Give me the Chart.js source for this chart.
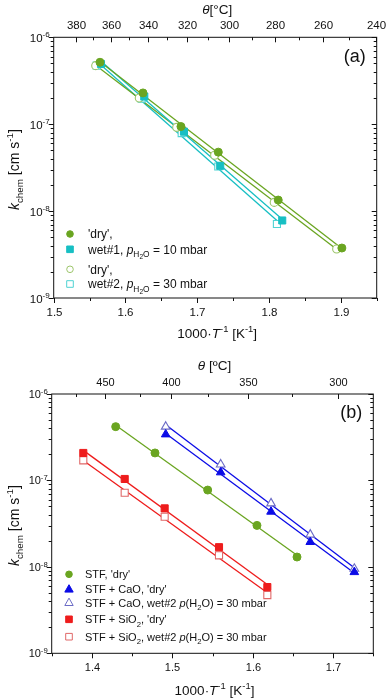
<!DOCTYPE html>
<html>
<head>
<meta charset="utf-8">
<script src="https://cdn.jsdelivr.net/npm/chart.js@4/dist/chart.umd.min.js"></script>
<style>
  html, body { margin: 0; padding: 0; background: #fff; }
  .panel { position: absolute; left: 0; width: 387px; }
  #wrapA { top: 0; height: 345px; }
  #wrapB { top: 345px; height: 354px; }
</style>
</head>
<body>
<div class="panel" id="wrapA"><canvas id="chartA" width="387" height="345"></canvas></div>
<div class="panel" id="wrapB"><canvas id="chartB" width="387" height="354"></canvas></div>
<script>
(function () {
  'use strict';

  // ---- panel (a): x = 1000/T [1/K], y = k_chem [cm/s]
  const aDry1X = [1.5645, 1.6244, 1.6773, 1.7293, 1.8128, 1.9015];
  const aDry1Y = [5.16e-7, 2.29e-7, 9.4e-8, 4.77e-8, 1.34e-8, 3.76e-9];
  const aWet1X = [1.5659, 1.6262, 1.6815, 1.7320, 1.8184];
  const aWet1Y = [4.93e-7, 2.08e-7, 8.2e-8, 3.32e-8, 7.8e-9];
  const aDry2X = [1.5585, 1.6192, 1.6713, 1.7242, 1.8072, 1.8942];
  const aDry2Y = [4.72e-7, 2.0e-7, 9.2e-8, 4.4e-8, 1.26e-8, 3.66e-9];
  const aWet2X = [1.5599, 1.6226, 1.6783, 1.7293, 1.8110];
  const aWet2Y = [4.72e-7, 1.97e-7, 7.9e-8, 3.26e-8, 7.1e-9];

  // ---- panel (b)
  const bStfX = [1.4296, 1.4785, 1.5440, 1.6053, 1.6551];
  const bStfY = [4.19e-7, 2.08e-7, 7.74e-8, 3.02e-8, 1.30e-8];
  const bCaoX = [1.4918, 1.5602, 1.6228, 1.6716, 1.7264];
  const bCaoDryY = [3.41e-7, 1.24e-7, 4.35e-8, 1.94e-8, 8.7e-9];
  const bCaoWetY = [4.19e-7, 1.53e-7, 5.43e-8, 2.36e-8, 9.5e-9];
  const bSioX = [1.3893, 1.4408, 1.4905, 1.5581, 1.6182];
  const bSioDryY = [2.08e-7, 1.04e-7, 4.75e-8, 1.69e-8, 5.84e-9];
  const bSioWetY = [1.71e-7, 7.2e-8, 3.8e-8, 1.36e-8, 4.72e-9];

  // ---- ticks
  const yDecades = [-9, -8, -7, -6];
  const aXTicks = [1.5, 1.6, 1.7, 1.8, 1.9];
  const aThetaTicks = [380, 360, 340, 320, 300, 280, 260, 240];
  const aThetaMinor = [370, 350, 330, 310, 290, 270, 250];
  const bXTicks = [1.4, 1.5, 1.6, 1.7];
  const bThetaTicks = [450, 400, 350, 300];
  const bThetaPos = [1.4163, 1.4980, 1.5945, 1.7057];     // as printed on the top axis
  const bThetaMinorPos = [1.3799, 1.4598, 1.5448, 1.6485];

  const FONT = '"Liberation Sans", Arial, sans-serif';
  const C = {
    green: '#6aa521', greenOpen: '#9cc56a',
    cyan: '#17bfc3', cyanOpen: '#4fd3d3',
    blue: '#0b0be6', blueOpen: '#6c6cc6',
    red: '#ee1c1c', redOpen: '#e06868'
  };

  const pts = (xs, ys) => xs.map((x, i) => ({ x, y: ys[i] }));

  // straight fit in log space, drawn between first and last point
  function fitPts(xs, ys) {
    const n = xs.length;
    const ly = ys.map(v => Math.log10(v));
    const mx = xs.reduce((s, v) => s + v, 0) / n;
    const my = ly.reduce((s, v) => s + v, 0) / n;
    let sxy = 0, sxx = 0;
    xs.forEach((x, i) => { sxy += (x - mx) * (ly[i] - my); sxx += (x - mx) * (x - mx); });
    const b = sxy / sxx, a = my - b * mx;
    const x0 = Math.min(...xs), x1 = Math.max(...xs);
    return [{ x: x0, y: Math.pow(10, a + b * x0) }, { x: x1, y: Math.pow(10, a + b * x1) }];
  }

  function series(xs, ys, style, lineColor, markColor, filled, r) {
    return [
      {
        data: fitPts(xs, ys), showLine: true, pointRadius: 0,
        borderColor: lineColor, borderWidth: 1.3, order: 2
      },
      {
        data: pts(xs, ys), showLine: false, order: 1,
        pointStyle: style, pointRadius: r,
        pointBackgroundColor: filled ? markColor : '#fff',
        pointBorderColor: markColor, pointBorderWidth: filled ? 1 : 1.1
      }
    ];
  }

  // ---- rich text (italic / sub / sup) on the canvas
  const KIND = {
    n: { s: 1, dy: 0, it: false },
    i: { s: 1, dy: 0, it: true },
    sub: { s: 0.7, dy: 0.3, it: false },
    sup: { s: 0.7, dy: -0.42, it: false },
    ss: { s: 0.55, dy: 0.48, it: false }
  };
  const setFont = (ctx, size, it) => { ctx.font = (it ? 'italic ' : '') + size + 'px ' + FONT; };

  function richWidth(ctx, segs, size) {
    let w = 0;
    segs.forEach(([t, k]) => { setFont(ctx, size * KIND[k].s, KIND[k].it); w += ctx.measureText(t).width; });
    return w;
  }

  function drawRich(ctx, segs, size, x, y, align) {
    const w = richWidth(ctx, segs, size);
    let cx = align === 'center' ? x - w / 2 : align === 'right' ? x - w : x;
    const base = y + size * 0.36;
    ctx.textAlign = 'left';
    ctx.textBaseline = 'alphabetic';
    segs.forEach(([t, k]) => {
      const K = KIND[k];
      setFont(ctx, size * K.s, K.it);
      ctx.fillText(t, cx, base + K.dy * size);
      cx += ctx.measureText(t).width;
    });
  }

  function marker(ctx, kind, x, y, color, filled) {
    ctx.save();
    ctx.fillStyle = filled ? color : '#fff';
    ctx.strokeStyle = color;
    ctx.lineWidth = 1;
    ctx.beginPath();
    if (kind === 'circle') ctx.arc(x, y, 3.3, 0, Math.PI * 2);
    else if (kind === 'rect') ctx.rect(x - 3.3, y - 3.3, 6.6, 6.6);
    else { ctx.moveTo(x, y - 4.6); ctx.lineTo(x + 4.2, y + 2.8); ctx.lineTo(x - 4.2, y + 2.8); ctx.closePath(); }
    ctx.fill();
    ctx.stroke();
    ctx.restore();
  }

  const yTitle = [['k', 'i'], ['chem', 'sub'], [' [cm s', 'n'], ['-1', 'sup'], [']', 'n']];
  const xTitle = [['1000·', 'n'], ['T', 'i'], ['-1', 'sup'], [' [K', 'n'], ['-1', 'sup'], [']', 'n']];

  // frame, ticks, labels, titles and legend
  function axesPlugin(cfg) {
    return {
      id: 'axesDeco',
      afterDraw(chart) {
        const ctx = chart.ctx;
        const { left, right, top, bottom } = chart.chartArea;
        const xs = chart.scales.x, ys = chart.scales.y;
        ctx.save();
        ctx.strokeStyle = '#111';
        ctx.fillStyle = '#111';
        ctx.lineWidth = 1;
        ctx.strokeRect(left, top, right - left, bottom - top);

        const tick = (x1, y1, x2, y2) => { ctx.beginPath(); ctx.moveTo(x1, y1); ctx.lineTo(x2, y2); ctx.stroke(); };

        // y: decades and minors, left outward, right inward
        yDecades.forEach(e => {
          const py = Math.round(ys.getPixelForValue(Math.pow(10, e))) + 0.5;
          tick(left - 5, py, left, py);
          tick(right - 5, py, right, py);
          drawRich(ctx, [['10', 'n'], [String(e), 'sup']], cfg.tickSize, left - 4, py, 'right');
          if (e < -6) {
            for (let m = 2; m <= 9; m++) {
              const p = Math.round(ys.getPixelForValue(m * Math.pow(10, e))) + 0.5;
              tick(left - 3, p, left, p);
              tick(right - 3, p, right, p);
            }
          }
        });

        // bottom x
        cfg.xTicks.forEach(v => {
          const px = Math.round(xs.getPixelForValue(v)) + 0.5;
          tick(px, bottom, px, bottom + 5);
          drawRich(ctx, [[v.toFixed(1), 'n']], cfg.tickSize, px, bottom + cfg.xLabelDy, 'center');
        });
        for (let v = xs.min; v <= xs.max + 1e-9; v += 0.05) {
          const px = Math.round(xs.getPixelForValue(v)) + 0.5;
          tick(px, bottom, px, bottom + 3);
        }

        // top theta
        cfg.topMajor.forEach(([pos, label]) => {
          if (pos < xs.min || pos > xs.max + 1e-6) return;
          const px = Math.round(xs.getPixelForValue(pos)) + 0.5;
          tick(px, top, px, top + 5);
          drawRich(ctx, [[String(label), 'n']], cfg.tickSize, px, top - 12.3, 'center');
        });
        cfg.topMinor.forEach(pos => {
          if (pos < xs.min || pos > xs.max) return;
          const px = Math.round(xs.getPixelForValue(pos)) + 0.5;
          tick(px, top, px, top + 3);
        });

        // titles
        const midX = (left + right) / 2 + 2;
        drawRich(ctx, xTitle, 13.5, midX, bottom + cfg.xTitleDy, 'center');
        drawRich(ctx, cfg.topTitle, 13.5, midX, top - 28.5, 'center');
        ctx.save();
        ctx.translate(13.5, (top + bottom) / 2 + 2);
        ctx.rotate(-Math.PI / 2);
        drawRich(ctx, yTitle, 14, 0, 0, 'center');
        ctx.restore();
        drawRich(ctx, [[cfg.panel, 'n']], 18, right - 22, top + 18, 'center');

        // legend
        cfg.legend.forEach((it, i) => {
          const ly = bottom - cfg.legendRows[i];
          marker(ctx, it.kind, left + cfg.legendMarkX, ly, it.color, it.filled);
          ctx.fillStyle = '#111';
          drawRich(ctx, it.text, cfg.legendSize, left + cfg.legendTextX, ly, 'left');
        });
        ctx.restore();
      }
    };
  }

  function makeChart(id, xMin, xMax, padding, datasets, cfg) {
    return new Chart(document.getElementById(id), {
      type: 'scatter',
      data: { datasets },
      options: {
        responsive: false,
        animation: false,
        events: [],
        layout: { padding },
        plugins: { legend: { display: false }, tooltip: { enabled: false } },
        scales: {
          x: { type: 'linear', min: xMin, max: xMax, display: false },
          y: { type: 'logarithmic', min: 1e-9, max: 1e-6, display: false }
        }
      },
      plugins: [axesPlugin(cfg)]
    });
  }

  const toInv = t => 1000 / (t + 273.15);

  makeChart('chartA', 1.5, 1.95, { left: 53.7, top: 37.3, right: 10.3, bottom: 47 }, [
    ...series(aDry1X, aDry1Y, 'circle', C.green, C.green, true, 4),
    ...series(aWet1X, aWet1Y, 'rect', C.cyan, C.cyan, true, 5),
    ...series(aDry2X, aDry2Y, 'circle', C.green, C.greenOpen, false, 4),
    ...series(aWet2X, aWet2Y, 'rect', C.cyan, C.cyanOpen, false, 5)
  ], {
    panel: '(a)',
    tickSize: 11.5,
    xTicks: aXTicks,
    xLabelDy: 13.7,
    xTitleDy: 34.7,
    topMajor: aThetaTicks.map(t => [toInv(t), t]),
    topMinor: aThetaMinor.map(toInv),
    topTitle: [['θ', 'i'], ['[°C]', 'n']],
    legendSize: 12,
    legendMarkX: 16.3,
    legendTextX: 34.3,
    legendRows: [64, 48.7, 28.7, 14],
    legend: [
      { kind: 'circle', color: C.green, filled: true, text: [["'dry',", 'n']] },
      { kind: 'rect', color: C.cyan, filled: true,
        text: [['wet#1, ', 'n'], ['p', 'i'], ['H', 'sub'], ['2', 'ss'], ['O', 'sub'], [' = 10 mbar', 'n']] },
      { kind: 'circle', color: C.greenOpen, filled: false, text: [["'dry',", 'n']] },
      { kind: 'rect', color: C.cyanOpen, filled: false,
        text: [['wet#2, ', 'n'], ['p', 'i'], ['H', 'sub'], ['2', 'ss'], ['O', 'sub'], [' = 30 mbar', 'n']] }
    ]
  });

  makeChart('chartB', 1.35, 1.75, { left: 51.7, top: 49, right: 13.7, bottom: 45.7 }, [
    ...series(bStfX, bStfY, 'circle', C.green, C.green, true, 4),
    ...series(bCaoX, bCaoDryY, 'triangle', C.blue, C.blue, true, 5),
    ...series(bCaoX, bCaoWetY, 'triangle', C.blue, C.blueOpen, false, 5),
    ...series(bSioX, bSioDryY, 'rect', C.red, C.red, true, 5),
    ...series(bSioX, bSioWetY, 'rect', C.red, C.redOpen, false, 5)
  ], {
    panel: '(b)',
    tickSize: 11,
    xTicks: bXTicks,
    xLabelDy: 13.4,
    xTitleDy: 36.7,
    topMajor: bThetaTicks.map((t, i) => [bThetaPos[i], t]),
    topMinor: bThetaMinorPos,
    topTitle: [['θ ', 'i'], ['[ºC]', 'n']],
    legendSize: 11,
    legendMarkX: 17.3,
    legendTextX: 33.3,
    legendRows: [79, 64, 50.6, 34, 16.6],
    legend: [
      { kind: 'circle', color: C.green, filled: true, text: [["STF, 'dry'", 'n']] },
      { kind: 'tri', color: C.blue, filled: true, text: [["STF + CaO, 'dry'", 'n']] },
      { kind: 'tri', color: C.blueOpen, filled: false,
        text: [['STF + CaO, wet#2 ', 'n'], ['p', 'i'], ['(H', 'n'], ['2', 'sub'], ['O) = 30 mbar', 'n']] },
      { kind: 'rect', color: C.red, filled: true,
        text: [['STF + SiO', 'n'], ['2', 'sub'], [", 'dry'", 'n']] },
      { kind: 'rect', color: C.redOpen, filled: false,
        text: [['STF + SiO', 'n'], ['2', 'sub'], [', wet#2 ', 'n'], ['p', 'i'], ['(H', 'n'], ['2', 'sub'], ['O) = 30 mbar', 'n']] }
    ]
  });
})();
</script>
</body>
</html>
